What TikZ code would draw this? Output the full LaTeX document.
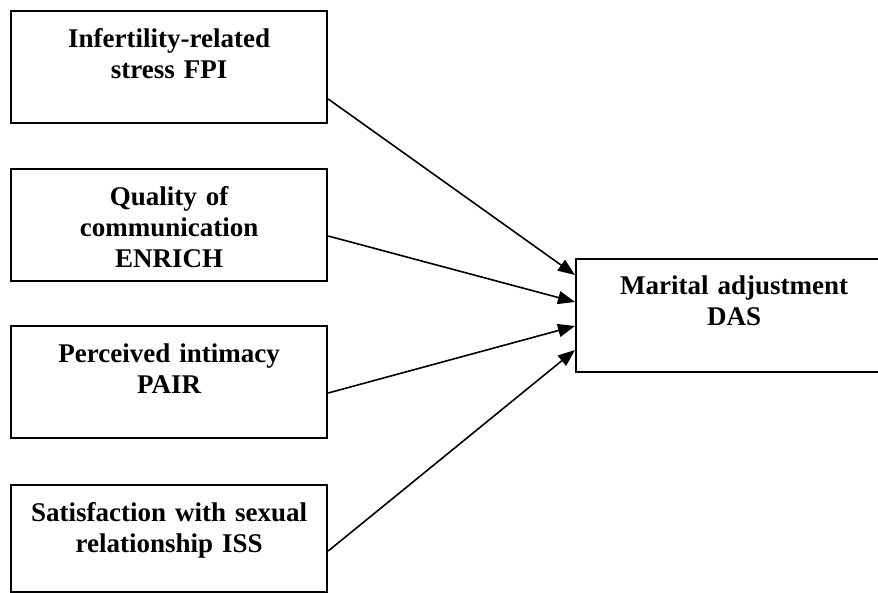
\documentclass[tikz,border=0pt]{standalone}
\usepackage{fontspec}
\setmainfont{Liberation Serif}
\usetikzlibrary{arrows.meta}

\begin{document}
\begin{tikzpicture}[x=1pt, y=-1pt, font=\bfseries\fontsize{27}{31}\selectfont]
\tikzstyle{box}=[draw, line width=2.2pt, anchor=north west, inner sep=0pt, text width=316pt, align=center, text height=36pt, text depth=76pt]
\tikzstyle{arr}=[line width=1.6pt, -{Triangle[length=17pt, width=13pt]}]
\useasboundingbox (0,0) rectangle (878,592);
\clip (0,0) rectangle (878,592);
% predictors
\node[box] (fpi) at (10,10) {Infertility-related\\stress FPI};
\node[box] (enrich) at (10,168) {Quality of\\communication\\ENRICH};
\node[box] (pair) at (10,325) {Perceived intimacy\\PAIR};
\node[box, text depth=71pt] (iss) at (10,484) {Satisfaction with sexual\\relationship ISS};
% outcome
\node[box, text height=35pt, text depth=78pt] (das) at (575,258) {Marital adjustment\\DAS};
\draw[arr] ([yshift=-89pt]fpi.north east) -- ([yshift=-17pt]das.north west);
\draw[arr] ([yshift=-68pt]enrich.north east) -- ([yshift=-44pt]das.north west);
\draw[arr] ([yshift=-68pt]pair.north east) -- ([yshift=-68pt]das.north west);
\draw[arr] ([yshift=-67pt]iss.north east) -- ([yshift=-92pt]das.north west);
\end{tikzpicture}
\end{document}
